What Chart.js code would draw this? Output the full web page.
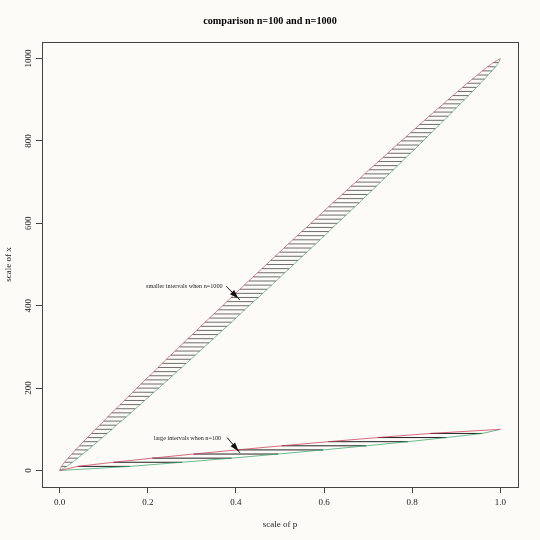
<!DOCTYPE html>
<html>
<head>
<meta charset="utf-8">
<script src="https://cdn.jsdelivr.net/npm/chart.js@4.4.1/dist/chart.umd.min.js"></script>
<style>
  html, body { margin: 0; padding: 0; background: #fcfbf8; }
  #wrap { width: 540px; height: 540px; }
</style>
</head>
<body>
<div id="wrap"><canvas id="chart" width="540" height="540"></canvas></div>
<script>
const titleText = 'comparison n=100 and n=1000'
const xTitle = 'scale of p'
const yTitle = 'scale of x'

const xTicks = [0, 0.2, 0.4, 0.6, 0.8, 1]
const yTicks = [0, 200, 400, 600, 800, 1000]

// hatch levels (x counts) and interval ends in p, n = 1000
const levels1000 = [0, 10, 20, 30, 40, 50, 60, 70, 80, 90,
  100, 110, 120, 130, 140, 150, 160, 170, 180, 190,
  200, 210, 220, 230, 240, 250, 260, 270, 280, 290,
  300, 310, 320, 330, 340, 350, 360, 370, 380, 390,
  400, 410, 420, 430, 440, 450, 460, 470, 480, 490,
  500, 510, 520, 530, 540, 550, 560, 570, 580, 590,
  600, 610, 620, 630, 640, 650, 660, 670, 680, 690,
  700, 710, 720, 730, 740, 750, 760, 770, 780, 790,
  800, 810, 820, 830, 840, 850, 860, 870, 880, 890,
  900, 910, 920, 930, 940, 950, 960, 970, 980, 990,
  1000]
const lower1000 = [0, .004, .011, .019, .028, .036, .045, .054, .063, .072,
  .081, .091, .100, .109, .118, .128, .137, .147, .156, .166,
  .175, .185, .194, .204, .214, .223, .233, .242, .252, .262,
  .272, .281, .291, .301, .311, .320, .330, .340, .350, .360,
  .370, .380, .389, .399, .409, .419, .429, .439, .449, .459,
  .469, .479, .489, .499, .509, .519, .529, .539, .549, .560,
  .570, .580, .590, .600, .610, .620, .631, .641, .651, .661,
  .672, .682, .692, .702, .713, .723, .734, .744, .754, .765,
  .775, .786, .796, .807, .817, .828, .838, .849, .860, .871,
  .881, .892, .903, .914, .925, .936, .948, .959, .971, .984,
  1]
const upper1000 = [0, .016, .029, .041, .052, .064, .075, .086, .097, .108,
  .119, .129, .140, .151, .162, .172, .183, .193, .204, .214,
  .225, .235, .246, .256, .266, .277, .287, .298, .308, .318,
  .328, .339, .349, .359, .369, .380, .390, .400, .410, .420,
  .430, .440, .451, .461, .471, .481, .491, .501, .511, .521,
  .531, .541, .551, .561, .571, .581, .591, .601, .611, .620,
  .630, .640, .650, .660, .670, .680, .689, .699, .709, .719,
  .728, .738, .748, .758, .767, .777, .786, .796, .806, .815,
  .825, .834, .844, .853, .863, .872, .882, .891, .900, .909,
  .919, .928, .937, .946, .955, .964, .972, .981, .989, .996,
  1]

// same for n = 100
const levels100 = [0, 10, 20, 30, 40, 50, 60, 70, 80, 90, 100]
const lower100 = [0, .041, .122, .210, .304, .402, .504, .610, .722, .841, 1]
const upper100 = [0, .159, .278, .390, .496, .598, .696, .790, .878, .959, 1]

// annotations: text anchor and arrow ends, in data units
const noteTexts = ['smaller intervals when n=1000', 'large intervals when n=100']
const noteAt = [[0.283, 448], [0.290, 79]]
const arrowFrom = [[0.378, 447], [0.380, 80]]
const arrowTo = [[0.409, 414], [0.409, 43]]

const serif = '"Liberation Serif", "DejaVu Serif", serif'

function curve(levels, ps) {
  return levels.map((lv, i) => ({ x: ps[i], y: lv }))
}

function hatch(levels, lo, hi) {
  const pts = []
  levels.forEach((lv, i) => {
    pts.push({ x: lo[i], y: lv }, { x: hi[i], y: lv }, { x: null, y: null })
  })
  return pts
}

function lineSet(data, color, width) {
  return {
    data: data,
    showLine: true,
    borderColor: color,
    borderWidth: width,
    pointRadius: 0,
    tension: 0,
    spanGaps: false
  }
}

const background = {
  id: 'background',
  beforeDraw(chart) {
    const ctx = chart.ctx
    ctx.save()
    ctx.fillStyle = '#fcfbf8'
    ctx.fillRect(0, 0, chart.width, chart.height)
    ctx.restore()
  }
}

const frameAndNotes = {
  id: 'frameAndNotes',
  afterDraw(chart) {
    const ctx = chart.ctx
    const a = chart.chartArea
    const xs = chart.scales.x
    const ys = chart.scales.y
    ctx.save()
    ctx.strokeStyle = '#444'
    ctx.lineWidth = 1
    ctx.strokeRect(Math.round(a.left) + 0.5, Math.round(a.top) + 0.5,
      Math.round(a.right - a.left), Math.round(a.bottom - a.top))

    ctx.fillStyle = '#222'
    ctx.font = '6.2px ' + serif
    ctx.textAlign = 'center'
    ctx.textBaseline = 'middle'
    noteTexts.forEach((t, i) => {
      ctx.fillText(t, xs.getPixelForValue(noteAt[i][0]), ys.getPixelForValue(noteAt[i][1]))
    })

    ctx.strokeStyle = '#111'
    ctx.fillStyle = '#111'
    arrowFrom.forEach((f, i) => {
      const x0 = xs.getPixelForValue(f[0])
      const y0 = ys.getPixelForValue(f[1])
      const x1 = xs.getPixelForValue(arrowTo[i][0])
      const y1 = ys.getPixelForValue(arrowTo[i][1])
      const ang = Math.atan2(y1 - y0, x1 - x0)
      ctx.beginPath()
      ctx.moveTo(x0, y0)
      ctx.lineTo(x1, y1)
      ctx.stroke()
      const len = 9
      const half = 3
      const bx = x1 - 2 * Math.cos(ang)
      const by = y1 - 2 * Math.sin(ang)
      ctx.beginPath()
      ctx.moveTo(bx, by)
      ctx.lineTo(bx - len * Math.cos(ang) + half * Math.sin(ang), by - len * Math.sin(ang) - half * Math.cos(ang))
      ctx.lineTo(bx - len * Math.cos(ang) - half * Math.sin(ang), by - len * Math.sin(ang) + half * Math.cos(ang))
      ctx.closePath()
      ctx.fill()
    })
    ctx.restore()
  }
}

new Chart(document.getElementById('chart'), {
  type: 'scatter',
  data: {
    datasets: [
      lineSet(curve(levels1000, lower1000), 'rgba(195,70,95,0.65)', 1),
      lineSet(curve(levels1000, upper1000), 'rgba(70,160,110,0.65)', 1),
      lineSet(curve(levels100, lower100), 'rgba(200,60,90,0.75)', 1),
      lineSet(curve(levels100, upper100), 'rgba(60,165,105,0.75)', 1),
      lineSet(hatch(levels1000, lower1000, upper1000), '#4a4a4a', 0.8),
      lineSet(hatch(levels100, lower100, upper100), '#222', 1)
    ]
  },
  options: {
    responsive: false,
    animation: false,
    layout: { padding: { left: 11, right: 11, top: 0, bottom: 0 } },
    plugins: {
      legend: { display: false },
      tooltip: { enabled: false },
      title: {
        display: true,
        text: titleText,
        color: '#000',
        font: { family: serif, size: 10.2, weight: 'bold' },
        padding: { top: 15, bottom: 14.8 }
      }
    },
    scales: {
      x: {
        type: 'linear',
        min: -0.04,
        max: 1.04,
        afterBuildTicks: s => { s.ticks = xTicks.map(v => ({ value: v })) },
        afterFit: s => { s.height = 53 },
        ticks: {
          color: '#222',
          font: { family: serif, size: 9 },
          padding: 4,
          maxRotation: 0,
          callback: v => v.toFixed(1)
        },
        grid: { drawOnChartArea: false, tickLength: 6, color: '#444' },
        border: { display: true, color: '#444' },
        title: {
          display: true,
          text: xTitle,
          color: '#222',
          font: { family: serif, size: 9 },
          padding: { top: 0, bottom: 10 }
        }
      },
      y: {
        type: 'linear',
        min: -40,
        max: 1040,
        afterBuildTicks: s => { s.ticks = yTicks.map(v => ({ value: v })) },
        afterFit: s => { s.width = 31 },
        ticks: {
          color: '#222',
          font: { family: serif, size: 9 },
          minRotation: 90,
          maxRotation: 90,
          crossAlign: 'center',
          padding: -2,
          callback: v => String(v)
        },
        grid: { drawOnChartArea: false, tickLength: 6, color: '#444' },
        border: { display: true, color: '#444' },
        title: {
          display: true,
          text: yTitle,
          color: '#222',
          font: { family: serif, size: 9 },
          padding: { top: -8, bottom: 0 }
        }
      },
      // empty right margin so the title stays centred on the page
      spacer: {
        type: 'linear',
        position: 'right',
        afterFit: s => { s.width = 11 },
        ticks: { display: false },
        grid: { display: false },
        border: { display: false }
      }
    }
  },
  plugins: [background, frameAndNotes]
})
</script>
</body>
</html>
